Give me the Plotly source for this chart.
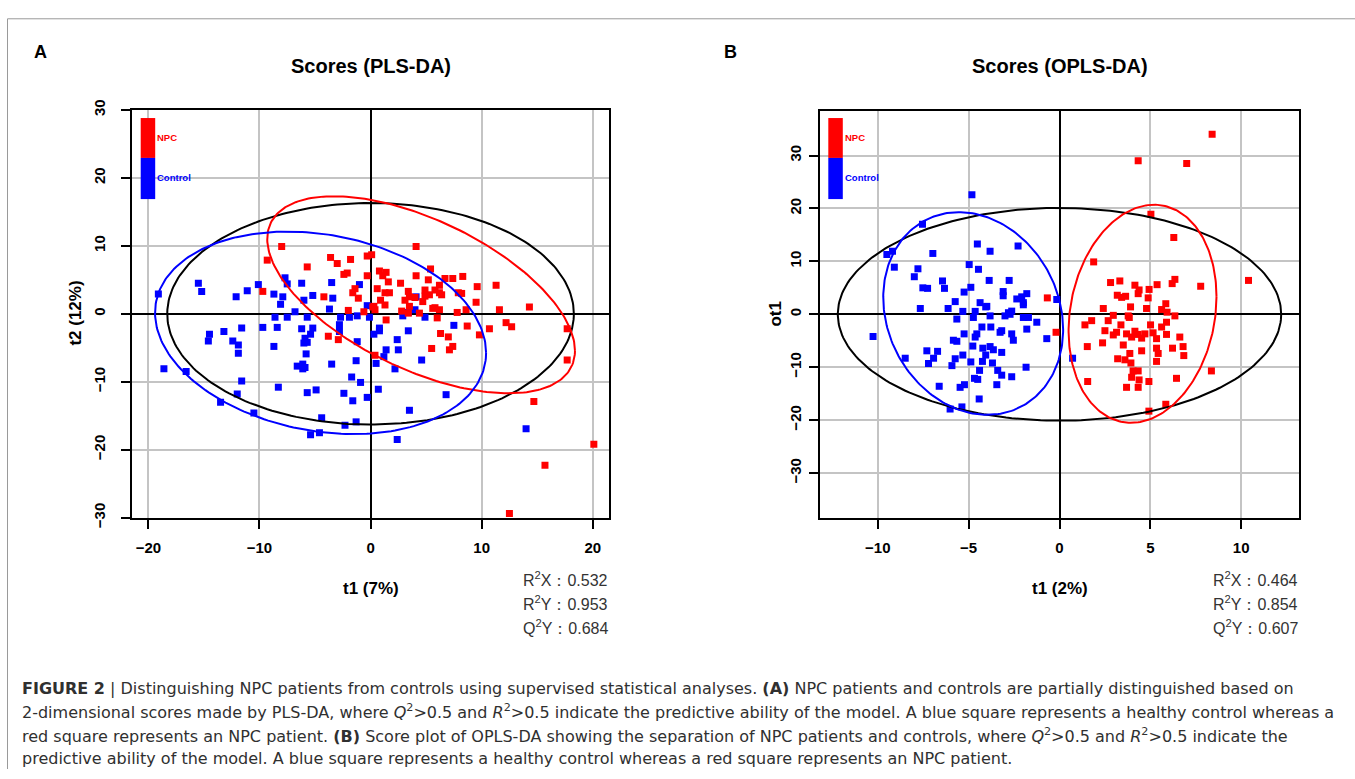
import numpy as np
import plotly.graph_objects as go

W, H = 1355, 779

# ---------------- Panel A : PLS-DA scores ----------------
pls_npc = [
    (-8.0, 9.9), (-9.3, 7.9), (-9.7, 3.3), (-3.6, 8.3), (-3.0, 7.4), (-1.8, 8.0), (-5.7, 6.9),
    (-2.4, 5.8), (-2.1, 6.0), (-0.3, 8.5), (0.1, 8.7), (-0.3, 5.6), (-1.4, 3.7), (-1.6, 3.1),
    (-1.1, 2.3), (-4.2, 2.5), (-2.0, 0.5), (-0.6, 0.3), (0.3, 1.1), (0.6, 3.7),
    (-3.8, -3.3), (-2.9, -3.8), (0.4, -6.1),
    (4.1, 9.9), (5.4, 6.6), (0.8, 6.3), (1.4, 6.1), (1.6, 4.7), (1.1, 5.6), (4.1, 5.6), (5.2, 5.0),
    (6.7, 5.2), (7.4, 5.2), (8.3, 5.5), (6.2, 4.2), (2.7, 4.5), (9.6, 4.0), (11.3, 4.2),
    (1.3, 3.1), (1.7, 3.1), (3.4, 3.3), (3.5, 2.5), (4.0, 2.4), (4.9, 3.5), (4.9, 2.6), (5.8, 3.5),
    (6.4, 2.8), (6.2, 3.1), (7.9, 3.1), (8.2, 3.0), (0.9, 2.0), (1.3, 1.3), (0.2, 1.0), (3.1, 2.0),
    (4.7, 1.8), (5.3, 2.8), (9.5, 1.7), (5.8, 0.9), (6.2, 0.6), (7.8, 0.2), (8.6, 0.6), (2.8, 0.4),
    (3.4, 0.1), (11.6, 0.6), (14.3, 1.0),
    (0.4, 0.6), (1.4, -0.9), (3.5, 1.1), (4.4, 0.1), (5.6, 0.8), (6.0, -0.6),
    (6.3, -2.9), (7.0, -3.4), (5.5, -5.1), (7.1, -5.3), (7.4, -4.8), (8.7, -1.8), (9.8, -3.1),
    (10.7, -2.2), (12.2, -1.3), (12.7, -1.9), (17.7, -2.2), (17.7, -6.8), (14.7, -12.9),
    (15.7, -22.3), (20.1, -19.2), (12.5, -29.4),
]
pls_ctrl = [
    (-19.1, 2.9), (-15.5, 4.5), (-15.2, 3.3), (-12.1, 2.5), (-11.1, 3.4), (-10.1, 4.3), (-8.7, 2.9),
    (-7.9, 2.5), (-8.1, 1.4), (-7.7, 5.3), (-7.5, 4.4), (-6.2, 4.5), (-5.2, 2.7), (-6.0, 2.0),
    (-3.5, 4.6), (-3.4, 2.3), (-1.0, 4.3), (-0.3, 1.2), (-8.6, -0.5), (-7.5, -0.5), (-6.8, 0.3),
    (-5.7, -0.5), (-3.7, 0.7), (-2.7, -0.5), (-1.9, -0.5), (-1.2, -0.3), (-0.1, -0.5),
    (-14.5, -3.0), (-14.6, -4.0), (-13.2, -2.6), (-12.4, -4.0), (-11.9, -4.6), (-11.9, -5.8),
    (-11.6, -2.1), (-9.7, -2.0), (-8.4, -2.0), (-8.7, -4.8), (-6.2, -2.2), (-5.2, -2.1), (-5.4, -3.0),
    (-5.9, -3.6), (-6.0, -4.3), (-5.7, -4.2), (-5.8, -5.9), (-6.6, -7.7), (-6.1, -7.4), (-6.1, -8.1),
    (-5.9, -7.9), (-3.5, -7.4), (-2.8, -1.6), (-2.8, -2.6), (-1.2, -4.1), (-1.3, -6.9),
    (-18.6, -8.1), (-16.6, -8.5), (-11.6, -9.9), (-12.0, -11.8), (-13.5, -13.0), (-10.5, -14.6),
    (-8.3, -10.8), (-5.7, -11.6), (-4.9, -11.2), (-1.7, -9.3), (-0.9, -10.1), (-2.4, -11.7),
    (-1.6, -12.8), (-0.3, -12.3), (-4.4, -15.3), (-2.3, -16.4), (-1.3, -15.9), (-5.4, -17.8),
    (-4.6, -17.5), (0.5, -7.3), (0.7, -11.1),
    (0.8, -2.1), (0.8, -2.5), (0.3, -3.0), (3.4, -2.5), (2.4, -3.8), (2.5, -5.3), (1.4, -5.3),
    (1.2, -6.3), (4.6, -6.8), (2.2, -8.1), (6.8, -11.9), (3.5, -14.2), (2.4, -18.5), (14.0, -16.9),
    (2.9, -0.3), (4.0, 0.6), (4.9, -0.5), (7.5, -1.7), (4.1, 2.5), (3.4, 0.2),
]

# ---------------- Panel B : OPLS-DA scores ----------------
opls_npc = [
    (8.4, 34.0), (4.33, 29.0), (7.0, 28.5), (5.03, 18.9), (6.29, 14.5), (1.88, 9.9), (10.4, 6.4),
    (2.81, 6.0), (3.32, 6.3), (4.15, 5.5), (4.38, 4.6), (4.33, 3.9), (4.93, 4.7), (4.88, 3.1),
    (5.37, 5.6), (6.2, 5.8), (6.35, 6.6), (7.77, 5.3), (3.18, 3.6), (3.42, 3.2), (3.64, 3.4),
    (2.41, 1.1), (3.91, 1.4), (4.79, 1.1), (5.62, 0.9), (5.85, 2.0), (5.92, 0.4), (6.35, -0.3),
    (2.96, -0.2), (3.78, -0.3), (1.77, -1.2), (2.68, -1.2), (1.4, -2.0), (3.38, -2.0), (3.84, -0.6),
    (2.5, -3.1), (2.96, -3.9), (3.14, -3.4), (3.69, -3.7), (3.97, -4.3), (4.15, -3.2), (4.33, -3.8),
    (4.52, -4.5), (4.7, -3.7), (5.01, -2.0), (5.15, -3.5), (5.34, -4.6), (5.62, -2.4), (5.89, -1.5),
    (5.89, -3.8), (6.62, -4.3), (1.53, -6.1), (2.37, -5.4), (3.51, -5.8), (4.52, -6.9), (5.34, -6.4),
    (5.43, -7.4), (5.34, -8.9), (6.22, -6.4), (6.8, -6.1), (6.84, -7.8), (3.87, -7.4), (3.2, -8.4),
    (3.6, -8.6), (3.93, -9.2), (4.05, -10.7), (4.33, -10.7), (3.97, -11.9), (4.38, -12.4),
    (4.92, -12.7), (3.69, -13.8), (4.33, -13.8), (6.44, -12.1), (1.55, -12.7), (8.36, -10.7),
    (4.92, -18.3), (5.85, -17.0), (-0.67, 3.1), (-0.19, -3.4),
]
opls_ctrl = [
    (-4.82, 22.6), (-7.54, 17.0), (-9.5, 11.3), (-9.19, 11.9), (-9.09, 8.9), (-6.97, 11.5),
    (-4.52, 13.3), (-3.82, 11.9), (-2.28, 12.9), (-4.97, 9.4), (-4.46, 8.5), (-7.79, 8.6),
    (-7.99, 7.1), (-3.87, 6.4), (-2.77, 6.4), (-6.44, 6.3), (-6.33, 4.9), (-7.52, 5.0), (-7.26, 4.9),
    (-4.88, 5.1), (-5.25, 4.2), (-3.1, 4.3), (-3.1, 3.5), (-2.35, 2.9), (-2.08, 3.3), (-1.8, 3.9),
    (-1.99, 2.2), (-5.74, 2.4), (-7.66, 1.1), (-6.13, 1.1), (-4.37, 2.2), (-4.0, 1.5), (-5.32, 0.55),
    (-4.64, 0.55), (-2.81, 0.3), (-2.63, 0.6), (-0.15, 2.8),
    (-10.26, -4.2), (-5.65, -0.9), (-4.74, -0.6), (-4.06, 1.4), (-3.82, -0.3), (-3.0, -0.3),
    (-2.72, 0.0), (-1.99, -0.6), (-1.71, -0.6), (-1.25, -1.5), (-1.99, 1.8),
    (-4.27, -2.4), (-4.55, -3.7), (-4.64, -4.3), (-3.78, -2.4), (-3.27, -3.4), (-3.18, -3.1),
    (-2.63, -3.7), (-2.54, -4.9), (-1.8, -2.8), (-0.7, -4.6),
    (-5.25, -3.7), (-5.84, -4.9), (-5.65, -5.1), (-4.77, -6.0), (-4.22, -6.4), (-3.82, -6.1),
    (-3.64, -6.7), (-4.06, -7.7), (-3.18, -7.2), (-5.32, -7.7), (-5.74, -8.4), (-5.92, -9.7),
    (-4.88, -9.0), (-4.24, -8.9), (-3.69, -9.2), (-7.3, -6.9), (-6.71, -7.0), (-6.93, -8.3),
    (-7.21, -9.3), (-8.49, -8.3), (-4.4, -10.6), (-3.4, -10.6), (-3.18, -11.5), (-2.63, -11.8),
    (-1.84, -10.0), (-4.68, -12.1), (-4.5, -12.3), (-3.45, -13.3), (-6.62, -13.6), (-5.47, -13.8),
    (-5.23, -13.3), (-4.42, -16.0), (-6.02, -17.9), (-5.37, -17.5), (0.72, -8.3),
]

# Confidence ellipses: (centre x, centre y, x extent, y extent, covariance term)
pls_ellipses = {
    "black": (0.0, 0.0, 18.3, 16.3, 0.0),
    "red": (4.55, 2.8, 13.85, 14.5, -114.0),
    "blue": (-4.5, -2.8, 14.9, 14.9, -44.0),
}
opls_ellipses = {
    "black": (0.0, 0.0, 12.2, 20.1, 0.0),
    "red": (4.57, 0.1, 4.07, 20.6, 13.0),
    "blue": (-4.75, 0.15, 4.95, 19.15, -15.0),
}

pls_ticks_x = [-20, -10, 0, 10, 20]
pls_ticks_y = [-30, -20, -10, 0, 10, 20, 30]
opls_ticks_x = [-10, -5, 0, 5, 10]
opls_ticks_y = [-30, -20, -10, 0, 10, 20, 30]

pls_stats = [("R", "X", "0.532"), ("R", "Y", "0.953"), ("Q", "Y", "0.684")]
opls_stats = [("R", "X", "0.464"), ("R", "Y", "0.854"), ("Q", "Y", "0.607")]

caption_lines = [
    "<b>FIGURE 2</b> | Distinguishing NPC patients from controls using supervised statistical analyses. <b>(A)</b> NPC patients and controls are partially distinguished based on",
    "2-dimensional scores made by PLS-DA, where <i>Q</i><sup>2</sup>&gt;0.5 and <i>R</i><sup>2</sup>&gt;0.5 indicate the predictive ability of the model. A blue square represents a healthy control whereas a",
    "red square represents an NPC patient. <b>(B)</b> Score plot of OPLS-DA showing the separation of NPC patients and controls, where <i>Q</i><sup>2</sup>&gt;0.5 and <i>R</i><sup>2</sup>&gt;0.5 indicate the",
    "predictive ability of the model. A blue square represents a healthy control whereas a red square represents an NPC patient.",
]

COLORS = {"black": "#000000", "red": "#ff0000", "blue": "#0000ff"}
FONT = "Liberation Sans, Arial, sans-serif"
CAP_FONT = "DejaVu Sans, sans-serif"


def px(x):
    return x / W


def py(y):
    return 1 - y / H


def ellipse(params, n=240):
    cx, cy, sx, sy, cov = params
    t = np.linspace(0, 2 * np.pi, n)
    b = cov / sx
    c = np.sqrt(sy ** 2 - b ** 2)
    return cx + sx * np.cos(t), cy + b * np.cos(t) + c * np.sin(t)


fig = go.Figure()

for pts, col, xa, ya in [
    (pls_ctrl, "blue", "x", "y"), (pls_npc, "red", "x", "y"),
    (opls_ctrl, "blue", "x2", "y2"), (opls_npc, "red", "x2", "y2"),
]:
    fig.add_trace(go.Scatter(
        x=[p[0] for p in pts], y=[p[1] for p in pts], mode="markers",
        marker=dict(symbol="square", size=7, color=COLORS[col], line=dict(width=0)),
        xaxis=xa, yaxis=ya, showlegend=False, hoverinfo="skip"))

for ells, xa, ya in [(pls_ellipses, "x", "y"), (opls_ellipses, "x2", "y2")]:
    for name, par in ells.items():
        ex, ey = ellipse(par)
        fig.add_trace(go.Scatter(x=ex, y=ey, mode="lines", line=dict(color=COLORS[name], width=2),
                                 xaxis=xa, yaxis=ya, showlegend=False, hoverinfo="skip"))

axis_common = dict(
    showgrid=True, gridcolor="#c4c4c4", gridwidth=1.5,
    zeroline=True, zerolinecolor="#000000", zerolinewidth=1.5,
    showline=True, mirror=True, linecolor="#000000", linewidth=2,
    ticks="outside", ticklen=9, tickwidth=1.5, tickcolor="#000000",
    tickfont=dict(family=FONT, size=15, color="#000000", weight="bold"),
)

fig.update_layout(
    width=W, height=H, autosize=False,
    margin=dict(l=0, r=0, t=0, b=0, pad=0),
    paper_bgcolor="white", plot_bgcolor="white",
    xaxis=dict(domain=[px(131.7), px(609.4)], range=[-21.5, 21.5], tickvals=pls_ticks_x,
               anchor="y", ticklabelstandoff=6, **axis_common),
    yaxis=dict(domain=[py(520.7), py(101.7)], range=[-30, 30], tickvals=pls_ticks_y,
               anchor="x", tickangle=-90, ticklabelstandoff=10, **axis_common),
    xaxis2=dict(domain=[px(820), px(1299)], range=[-13.18, 13.18], tickvals=opls_ticks_x,
                anchor="y2", ticklabelstandoff=6, **axis_common),
    yaxis2=dict(domain=[py(521.1), py(102.3)], range=[-38.5, 38.5], tickvals=opls_ticks_y,
                anchor="x2", tickangle=-90, ticklabelstandoff=2, **axis_common),
)

ann = []
shapes = []


def text(x, y, s, size, bold=False, color="#000000", xanchor="center", angle=0, family=FONT):
    ann.append(dict(x=px(x), y=py(y), xref="paper", yref="paper", text=s, showarrow=False,
                    xanchor=xanchor, yanchor="middle", textangle=angle,
                    font=dict(family=family, size=size, color=color,
                              weight="bold" if bold else "normal")))


# panel letters and titles
text(40, 42, "A", 18, bold=True)
text(730, 42, "B", 18, bold=True)
text(371, 57, "Scores (PLS-DA)", 20, bold=True)
text(1060, 57, "Scores (OPLS-DA)", 20, bold=True)
# axis titles
text(371, 593, "t1 (7%)", 17, bold=True)
text(76, 311, "t2 (12%)", 17, bold=True, angle=-90)
text(1060, 593, "t1 (2%)", 17, bold=True)
text(776, 311, "ot1", 17, bold=True, angle=-90)

# stats text
for stats, x0 in [(pls_stats, 521), (opls_stats, 1211)]:
    for i, (a, b, v) in enumerate(stats):
        text(x0, 584 + 24.5 * i, f"{a}<sup>2</sup>{b}：{v}", 16, color="#333333", xanchor="left")

# legend bars
for x0 in [140.7, 828.3]:
    shapes.append(dict(type="rect", xref="paper", yref="paper", x0=px(x0), x1=px(x0 + 14.5),
                       y0=py(151), y1=py(110), fillcolor="#ff0000", line=dict(width=0)))
    shapes.append(dict(type="rect", xref="paper", yref="paper", x0=px(x0), x1=px(x0 + 14.5),
                       y0=py(193.3), y1=py(151), fillcolor="#0000ff", line=dict(width=0)))
    text(x0 + 14.5, 129.5, "NPC", 9.5, bold=True, color="#ff0000", xanchor="left")
    text(x0 + 14.5, 171.5, "Control", 9.5, bold=True, color="#0000ff", xanchor="left")

# caption
for i, line in enumerate(caption_lines):
    text(20, 696 + 24.2 * i, line, 16, color="#303030", xanchor="left", family=CAP_FONT)

# outer frame
shapes.append(dict(type="line", xref="paper", yref="paper", x0=px(7.5), x1=px(7.5), y0=0, y1=py(8),
                   line=dict(color="#9a9a9a", width=1)))
shapes.append(dict(type="line", xref="paper", yref="paper", x0=px(7.5), x1=1, y0=py(8), y1=py(8),
                   line=dict(color="#9a9a9a", width=1)))

fig.update_layout(annotations=ann, shapes=shapes)
fig.write_html(
    "out.html",
    config={"responsive": False, "displayModeBar": False},
    post_script="document.body.style.margin='0px';document.body.style.overflow='hidden';",
)
